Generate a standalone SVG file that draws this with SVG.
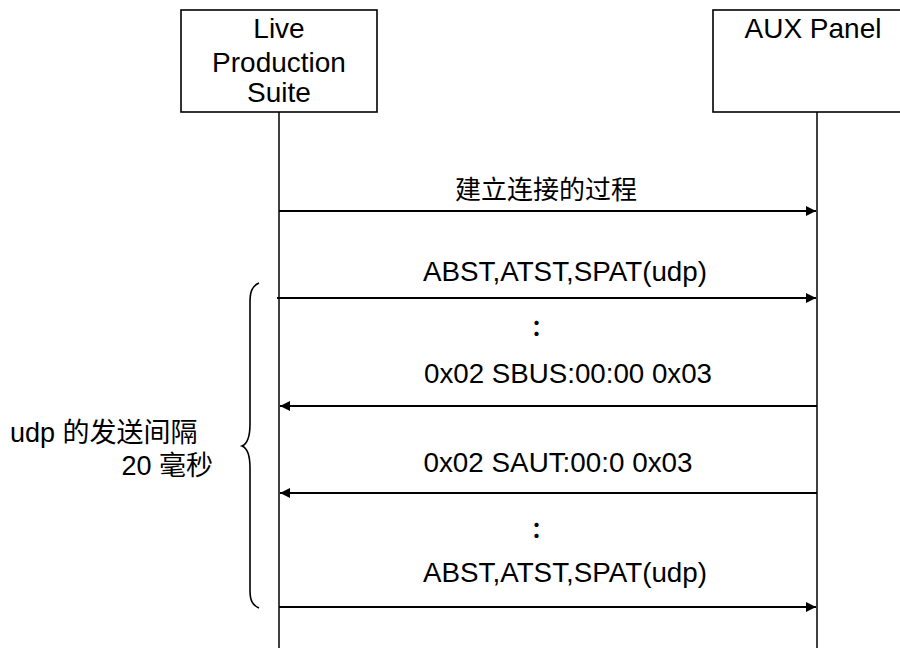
<svg xmlns="http://www.w3.org/2000/svg" width="900" height="648" viewBox="0 0 900 648">
<style>
.box{fill:#fff;stroke:#000;stroke-width:1.6}
.life{stroke:#000;stroke-width:1.5;fill:none}
.msg{stroke:#000;stroke-width:2;fill:none}
.t{font-family:"Liberation Sans",Arial,"Noto Sans CJK SC",sans-serif;font-size:27px;fill:#000}
.n{font-size:28px}
.c{text-anchor:middle}
.dots{font-size:22px;font-weight:bold}
.brace{stroke:#000;stroke-width:1.6;fill:none}
</style>
<defs>
<marker id="ah" viewBox="0 0 10 10" refX="10" refY="5" markerWidth="10" markerHeight="10" markerUnits="userSpaceOnUse" orient="auto">
<path d="M0,0 L10,5 L0,10 Z" fill="#000"/>
</marker>
</defs>
<g id="lifelines">
<line class="life" x1="279" y1="112" x2="279" y2="648"/>
<line class="life" x1="817" y1="112" x2="817" y2="648"/>
</g>
<g id="node-lps">
<rect class="box" x="181" y="10" width="196" height="102"/>
<text class="t n c" x="279" y="38">Live</text>
<text class="t n c" x="279" y="72">Production</text>
<text class="t n c" x="279" y="102">Suite</text>
</g>
<g id="node-aux">
<rect class="box" x="713" y="10" width="208" height="102"/>
<text class="t n c" x="813" y="38">AUX Panel</text>
</g>
<g id="connectors">
<line class="msg" x1="279" y1="211" x2="816" y2="211" marker-end="url(#ah)"/>
<line class="msg" x1="277" y1="298" x2="816" y2="298" marker-end="url(#ah)"/>
<line class="msg" x1="817" y1="406" x2="280" y2="406" marker-end="url(#ah)"/>
<line class="msg" x1="817" y1="493" x2="280" y2="493" marker-end="url(#ah)"/>
<line class="msg" x1="279" y1="607" x2="816" y2="607" marker-end="url(#ah)"/>
</g>
<g id="labels">
<text class="t c" x="546" y="199" style="font-size:26px">建立连接的过程</text>
<text class="t c" x="565" y="281" textLength="284" lengthAdjust="spacingAndGlyphs">ABST,ATST,SPAT(udp)</text>
<text class="t c dots" x="542" y="335">：</text>
<text class="t c" x="568" y="383" textLength="288" lengthAdjust="spacingAndGlyphs">0x02 SBUS:00:00 0x03</text>
<text class="t c" x="558" y="472" textLength="269" lengthAdjust="spacingAndGlyphs">0x02 SAUT:00:0 0x03</text>
<text class="t c dots" x="542" y="537">：</text>
<text class="t c" x="565" y="582" textLength="284" lengthAdjust="spacingAndGlyphs">ABST,ATST,SPAT(udp)</text>
</g>
<g id="brace-group">
<path class="brace" d="M259,283 C252,286 250,292 250,302 L250,424 C250,438 247,444 242,446 C247,448 250,454 250,468 L250,590 C250,600 252,605 259,608"/>
<text class="t" x="10" y="442">udp 的发送间隔</text>
<text class="t" x="213" y="475" style="text-anchor:end">20 毫秒</text>
</g>
</svg>
